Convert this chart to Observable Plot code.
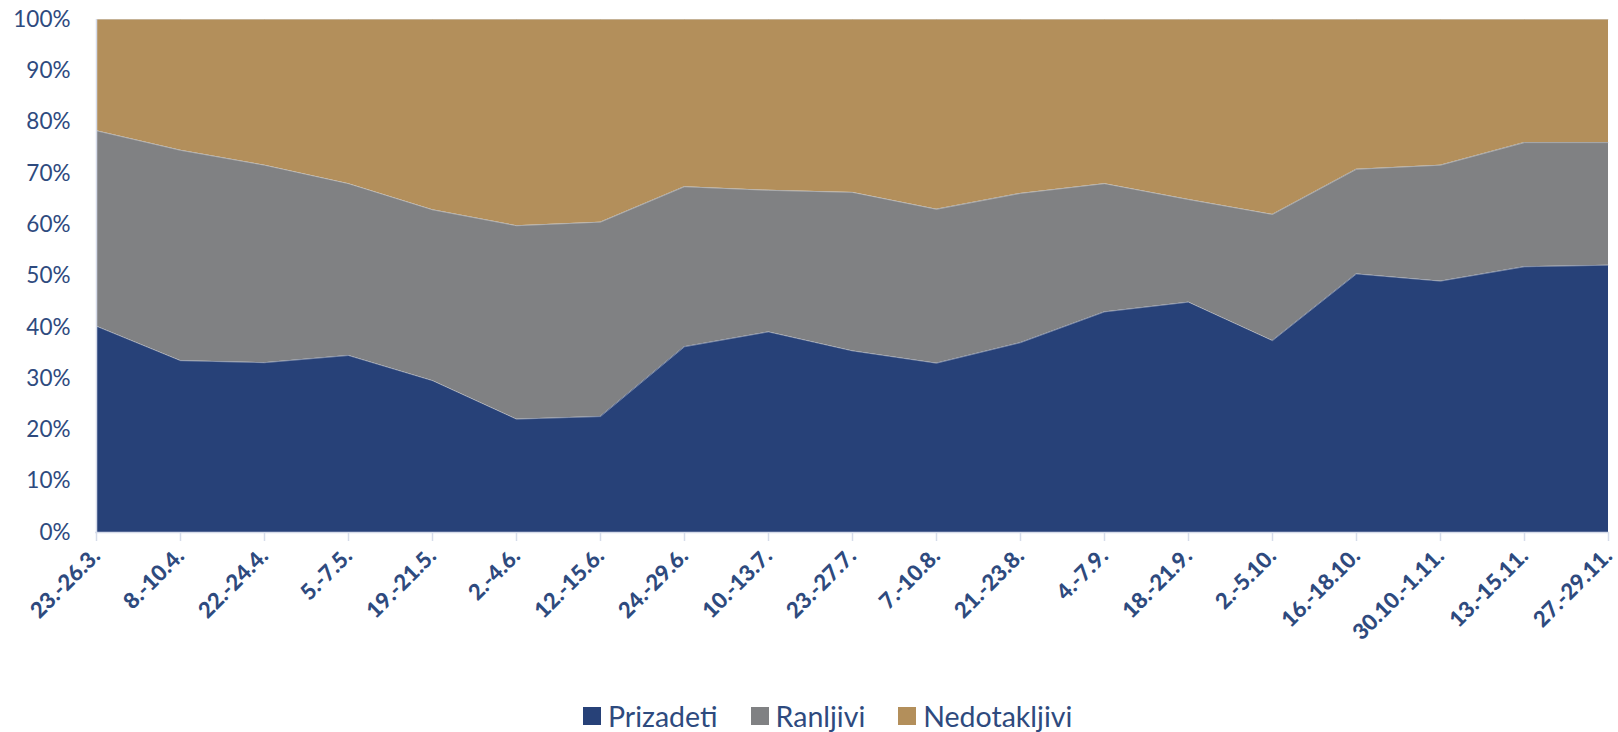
<!DOCTYPE html>
<html>
<head>
<meta charset="utf-8">
<script src="https://cdn.jsdelivr.net/npm/d3@7"></script>
<script src="https://cdn.jsdelivr.net/npm/@observablehq/plot@0.6"></script>
<style>
  html, body { margin: 0; padding: 0; background: #ffffff; }
  #wrap { position: relative; width: 1618px; height: 732px; overflow: hidden; }
  #legend { position: absolute; left: 583px; top: 702px; display: flex; align-items: center; line-height: 28px;
    font-family: Lato, "Open Sans", sans-serif; font-size: 28.5px; color: #2E4A7E; white-space: nowrap; }
  #legend .item { display: flex; align-items: center; margin-right: 33px; }
  #legend .sw { width: 18px; height: 18px; margin-right: 7px; }
  svg text { fill: #2E4A7E; }
</style>
</head>
<body>
<div id="wrap"><div id="chart"></div><div id="legend"></div></div>
<script>
const categories = ["23.-26.3.", "8.-10.4.", "22.-24.4.", "5.-7.5.", "19.-21.5.", "2.-4.6.", "12.-15.6.", "24.-29.6.", "10.-13.7.", "23.-27.7.", "7.-10.8.", "21.-23.8.", "4.-7.9.", "18.-21.9.", "2.-5.10.", "16.-18.10.", "30.10.-1.11.", "13.-15.11.", "27.-29.11."];
const seriesNames = ["Prizadeti", "Ranljivi", "Nedotakljivi"];
const prizadeti   = [40.2, 33.5, 33.1, 34.5, 29.6, 22.1, 22.6, 36.2, 39.1, 35.4, 33.0, 37.0, 43.0, 44.9, 37.4, 50.4, 49.0, 51.8, 52.1];
const ranljivi    = [38.1, 41.0, 38.5, 33.5, 33.3, 37.7, 37.9, 31.2, 27.6, 30.9, 30.0, 29.1, 25.0, 20.0, 24.6, 20.4, 22.6, 24.2, 23.9];
const nedotakljivi = [21.7, 25.5, 28.4, 32.0, 37.1, 40.2, 39.5, 32.6, 33.3, 33.7, 37.0, 33.9, 32.0, 35.1, 38.0, 29.2, 28.4, 24.0, 24.0];
const yTicks = [0, 10, 20, 30, 40, 50, 60, 70, 80, 90, 100];
const colors = ["#274178", "#808183", "#B38F5B"];

const seriesValues = [prizadeti, ranljivi, nedotakljivi];
const data = [];
seriesNames.forEach((s, si) => {
  categories.forEach((c, i) => data.push({cat: c, series: s, value: seriesValues[si][i]}));
});

const chart = Plot.plot({
  width: 1618,
  height: 660,
  marginLeft: 95,
  marginRight: 9,
  marginTop: 19,
  marginBottom: 128,
  style: {fontFamily: "Lato, 'Open Sans', sans-serif", background: "#ffffff", color: "#2E4A7E"},
  x: {type: "point", domain: categories, padding: 0},
  y: {domain: [0, 100]},
  color: {domain: seriesNames, range: colors},
  marks: [
    Plot.areaY(data, {x: "cat", y: "value", z: "series", fill: "series", order: seriesNames}),
    Plot.lineY(data, Plot.stackY2({x: "cat", y: "value", z: "series", order: seriesNames, stroke: "#d9d9d9", strokeWidth: 0.8, strokeOpacity: 0.6})),
    Plot.ruleY([0], {stroke: "#D6DCEA", strokeWidth: 1.5}),
    Plot.ruleX([categories[0]], {stroke: "#D6DCEA", strokeWidth: 1.5}),
    Plot.axisY({ticks: yTicks, tickFormat: d => d + "%", tickSize: 0, tickPadding: 25, fontSize: 22.5, label: null}),
    Plot.axisX({tickRotate: -45, tickSize: 9, stroke: "#D6DCEA", strokeWidth: 1.5, tickPadding: 11, fontSize: 22, fontWeight: 900, label: null})
  ]
});
document.getElementById("chart").appendChild(chart);

const legend = document.getElementById("legend");
seriesNames.forEach((s, i) => {
  const item = document.createElement("div");
  item.className = "item";
  const sw = document.createElement("span");
  sw.className = "sw";
  sw.style.background = colors[i];
  const t = document.createElement("span");
  t.textContent = s;
  item.appendChild(sw);
  item.appendChild(t);
  legend.appendChild(item);
});
</script>
</body>
</html>
